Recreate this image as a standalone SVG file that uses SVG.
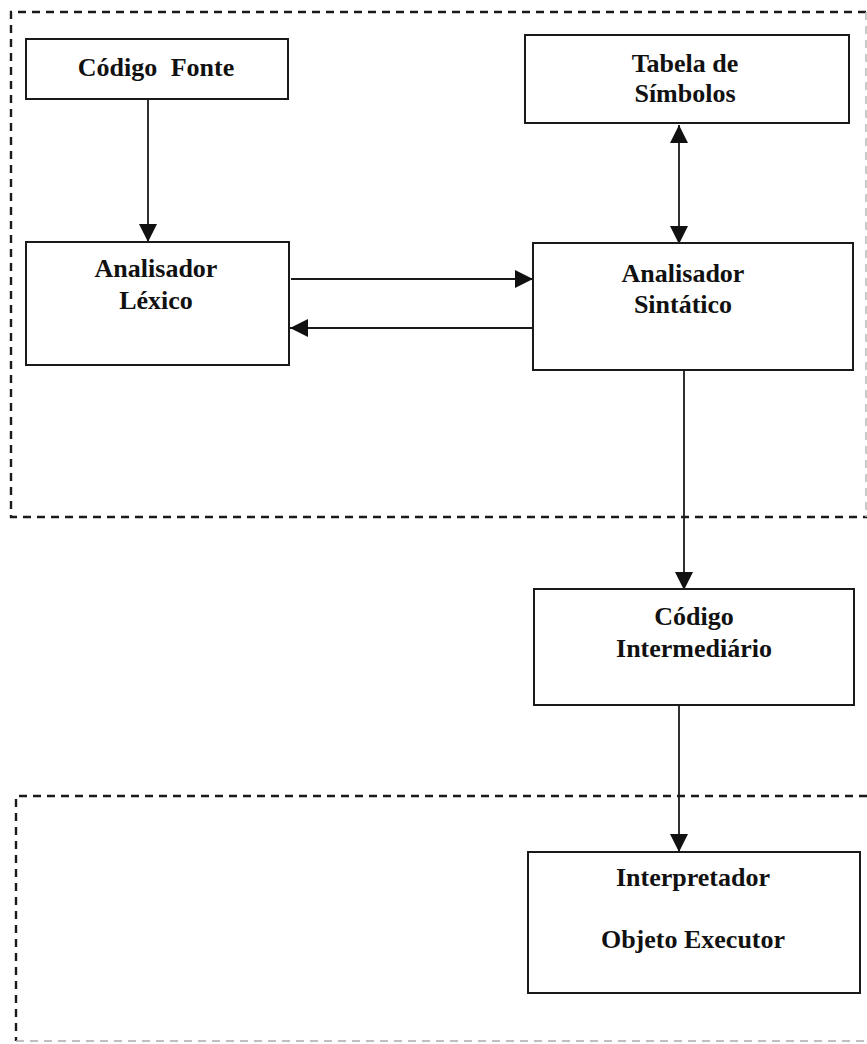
<svg xmlns="http://www.w3.org/2000/svg" width="867" height="1044" viewBox="0 0 867 1044">
<style>
.box{fill:#fff;stroke:#1a1a1a;stroke-width:2}
.dash{fill:none;stroke:#1a1a1a;stroke-width:2.4;stroke-dasharray:8 6}
.t{font-family:"Liberation Serif","Times New Roman",serif;font-weight:bold;font-size:26px;fill:#111;text-anchor:middle}
.c{fill:none;stroke:#1a1a1a;stroke-width:1.8}
</style>
<defs>
<marker id="ah" viewBox="0 0 18 18" refX="18" refY="9" markerWidth="18" markerHeight="18" markerUnits="userSpaceOnUse" orient="auto-start-reverse">
<path d="M0,0 L18,9 L0,18 z" fill="#111"/>
</marker>
</defs>
<rect x="0" y="0" width="867" height="1044" fill="#fff"/>
<g id="region-front">
<path class="dash" d="M866,12 L11,12 L11,517 L867,517"/>
<line x1="866" y1="12" x2="866" y2="517" stroke="#bbb" stroke-width="1.5" stroke-dasharray="8 6"/>
</g>
<g id="region-back">
<path class="dash" d="M867,796 L16,796 L16,1041"/>
<line x1="16" y1="1041" x2="867" y2="1041" stroke="#aaa" stroke-width="1.5" stroke-dasharray="8 6"/>
</g>
<g id="connectors">
<line class="c" x1="148" y1="99" x2="148" y2="242" marker-end="url(#ah)"/>
<line class="c" x1="291" y1="279" x2="533" y2="279" marker-end="url(#ah)"/>
<line class="c" x1="538" y1="328" x2="290" y2="328" marker-end="url(#ah)"/>
<line class="c" x1="679" y1="125" x2="679" y2="244" marker-start="url(#ah)" marker-end="url(#ah)"/>
<line class="c" x1="684" y1="370" x2="684" y2="590" marker-end="url(#ah)"/>
<line class="c" x1="679" y1="705" x2="679" y2="852" marker-end="url(#ah)"/>
</g>
<g id="codigo-fonte">
<rect class="box" x="26" y="39" width="262" height="60"/>
<text class="t" x="156" y="76" word-spacing="7">Código Fonte</text>
</g>
<g id="tabela-simbolos">
<rect class="box" x="525" y="35" width="324" height="88"/>
<text class="t" x="685" y="72">Tabela de</text>
<text class="t" x="685" y="102">Símbolos</text>
</g>
<g id="analisador-lexico">
<rect class="box" x="26" y="242" width="263" height="123"/>
<text class="t" x="156" y="277">Analisador</text>
<text class="t" x="156" y="309">Léxico</text>
</g>
<g id="analisador-sintatico">
<rect class="box" x="533" y="243" width="320" height="127"/>
<text class="t" x="683" y="282">Analisador</text>
<text class="t" x="683" y="313">Sintático</text>
</g>
<g id="codigo-intermediario">
<rect class="box" x="534" y="589" width="320" height="116"/>
<text class="t" x="694" y="625">Código</text>
<text class="t" x="694" y="657">Intermediário</text>
</g>
<g id="interpretador">
<rect class="box" x="528" y="852" width="332" height="141"/>
<text class="t" x="693" y="886">Interpretador</text>
<text class="t" x="693" y="948">Objeto Executor</text>
</g>
</svg>
